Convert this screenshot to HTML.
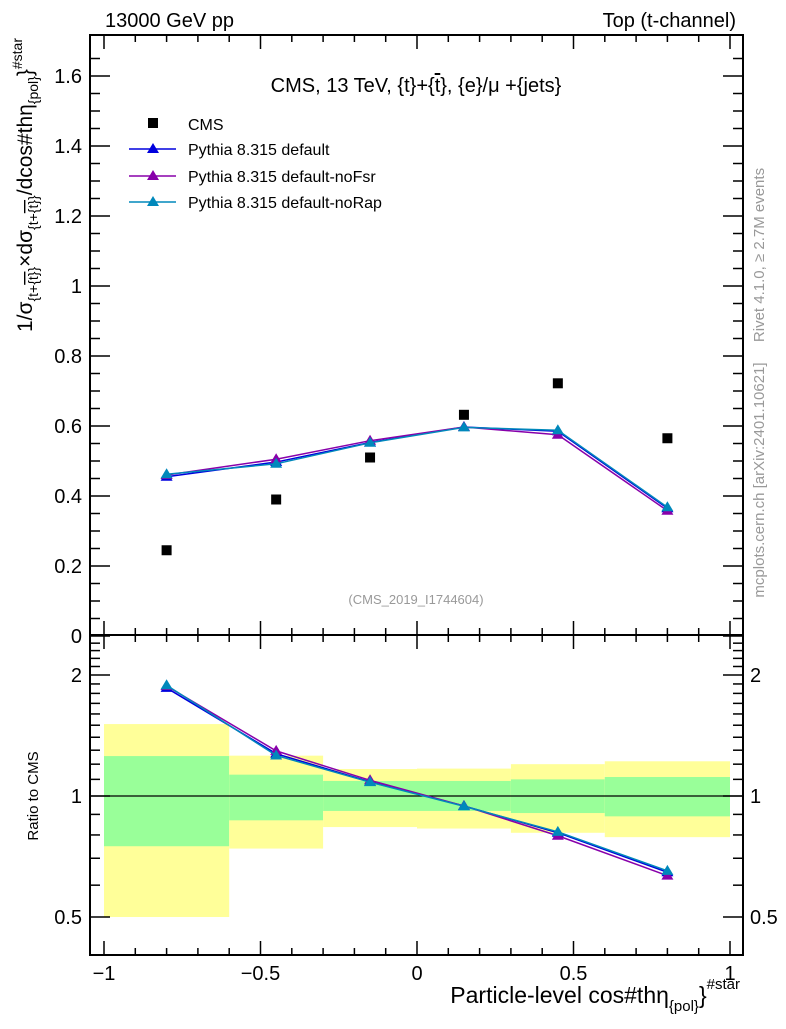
<!DOCTYPE html>
<html><head><meta charset="utf-8"><style>
body{margin:0;background:#fff}
svg{font-family:"Liberation Sans",sans-serif}
</style></head><body>
<svg id="c" width="786" height="1024" viewBox="0 0 786 1024" xmlns="http://www.w3.org/2000/svg">
<g id="bands"></g>
<g id="axes"></g>
<g id="series"></g>
<text x="105" y="27" font-size="20">13000 GeV pp</text>
<text x="736" y="27" font-size="20" text-anchor="end">Top (t-channel)</text>
<text x="416" y="92" font-size="20" text-anchor="middle">CMS, 13 TeV, {t}+{<tspan text-decoration="overline">t</tspan>}, {e}/μ +{jets}</text>
<text x="416" y="604" font-size="13" fill="#999" text-anchor="middle">(CMS_2019_I1744604)</text>
<text transform="translate(764,255) rotate(-90)" font-size="15" fill="#999" text-anchor="middle">Rivet 4.1.0, ≥ 2.7M events</text>
<text transform="translate(764,480) rotate(-90)" font-size="15" fill="#999" text-anchor="middle">mcplots.cern.ch [arXiv:2401.10621]</text>
<text transform="translate(32,38) rotate(-90)" font-size="21" text-anchor="end">1/σ<tspan font-size="14" dy="6">{t+<tspan text-decoration="overline">{t}</tspan>}</tspan><tspan dy="-6">×dσ</tspan><tspan font-size="14" dy="6">{t+<tspan text-decoration="overline">{t}</tspan>}</tspan><tspan dy="-6">/dcos#thη</tspan><tspan font-size="14" dy="6">{pol}</tspan><tspan dy="-6">}</tspan><tspan font-size="14" dy="-10">#star</tspan></text>
<text transform="translate(38,796) rotate(-90)" font-size="15" text-anchor="middle">Ratio to CMS</text>
<text x="740" y="1003" font-size="23" text-anchor="end">Particle-level cos#thη<tspan font-size="15" dy="8">{pol}</tspan><tspan dy="-8">}</tspan><tspan font-size="15" dy="-14">#star</tspan></text>
<g>
<rect x="148" y="118" width="10" height="10" fill="#000"/>
<text x="188" y="130" font-size="16">CMS</text>
<line x1="129" y1="149" x2="176" y2="149" stroke="#0000dd" stroke-width="1.5"/><polygon points="153,143 147,153 159,153" fill="#0000dd"/>
<text x="188" y="155" font-size="16">Pythia 8.315 default</text>
<line x1="129" y1="176" x2="176" y2="176" stroke="#8800aa" stroke-width="1.5"/><polygon points="153,170 147,180 159,180" fill="#8800aa"/>
<text x="188" y="182" font-size="16">Pythia 8.315 default-noFsr</text>
<line x1="129" y1="202" x2="176" y2="202" stroke="#0088bb" stroke-width="1.5"/><polygon points="153,196 147,206 159,206" fill="#0088bb"/>
<text x="188" y="208" font-size="16">Pythia 8.315 default-noRap</text>
</g>
</svg>
<script>
const binEdges=[-1,-0.6,-0.3,0,0.3,0.6,1];
const binCenters=[-0.8,-0.45,-0.15,0.15,0.45,0.8];
const cmsValues=[0.245,0.39,0.51,0.632,0.722,0.565];
const defaultValues=[0.455,0.497,0.553,0.597,0.585,0.365];
const noFsrValues=[0.46,0.505,0.558,0.597,0.575,0.358];
const noRapValues=[0.462,0.492,0.552,0.596,0.588,0.368];
const yellowHi=[1.51,1.26,1.167,1.17,1.20,1.22];
const yellowLo=[0.5,0.74,0.837,0.83,0.81,0.79];
const greenHi=[1.257,1.13,1.09,1.09,1.10,1.115];
const greenLo=[0.75,0.87,0.918,0.918,0.907,0.89];
const xTicks=[-1,-0.5,0,0.5,1];
const xTickLabels=["−1","−0.5","0","0.5","1"];
const yTicks=[0,0.2,0.4,0.6,0.8,1,1.2,1.4,1.6];
const yTickLabels=["0","0.2","0.4","0.6","0.8","1","1.2","1.4","1.6"];
const rTicks=[0.5,1,2];
const rTickLabels=["0.5","1","2"];

const NS="http://www.w3.org/2000/svg";
const L=90,R=743,T=35,MB=635,RB=955;
const X=v=>417+v*313;
const Y=v=>636-v*350;
const RY=v=>796-Math.log2(v)*121;
function mk(tag,attrs,parent){const e=document.createElementNS(NS,tag);for(const k in attrs)e.setAttribute(k,attrs[k]);parent.appendChild(e);return e;}
const bands=document.getElementById('bands'),axes=document.getElementById('axes'),series=document.getElementById('series');

for(let i=0;i<binCenters.length;i++){
 const x1=X(binEdges[i]),x2=X(binEdges[i+1]);
 const y=mk('rect',{x:x1,y:RY(yellowHi[i]),width:x2-x1,height:RY(yellowLo[i])-RY(yellowHi[i]),fill:'#ffff99'},bands);
 
 
 const g=mk('rect',{x:x1,y:RY(greenHi[i]),width:x2-x1,height:RY(greenLo[i])-RY(greenHi[i]),fill:'#99ff99'},bands);
 
 
}
mk('line',{x1:L,x2:R,y1:RY(1),y2:RY(1),stroke:'#000','stroke-width':1.2},bands);

mk('rect',{x:L,y:T,width:R-L,height:MB-T,fill:'none',stroke:'#000','stroke-width':2},axes);
mk('rect',{x:L,y:MB,width:R-L,height:RB-MB,fill:'none',stroke:'#000','stroke-width':2},axes);
for(let v=-1;v<=1.0001;v+=0.1){
 const x=X(v),major=Math.abs(v*2-Math.round(v*2))<1e-6;const h=major?14:7;
 mk('line',{x1:x,x2:x,y1:T,y2:T+h,stroke:'#000','stroke-width':1.5},axes);
 mk('line',{x1:x,x2:x,y1:MB,y2:MB-h,stroke:'#000','stroke-width':1.5},axes);
 mk('line',{x1:x,x2:x,y1:MB,y2:MB+h,stroke:'#000','stroke-width':1.5},axes);
 mk('line',{x1:x,x2:x,y1:RB,y2:RB-h,stroke:'#000','stroke-width':1.5},axes);
}
xTicks.forEach((v,i)=>{const t=mk('text',{x:X(v),y:980,'font-size':20,'text-anchor':'middle'},axes);t.textContent=xTickLabels[i];
 
 });
for(let v=0;v<=1.7;v+=0.05){const y=Y(v);const major=Math.abs(v*5-Math.round(v*5))<1e-6;const h=major?20:10;
 mk('line',{x1:L,x2:L+h,y1:y,y2:y,stroke:'#000','stroke-width':1.5},axes);
 mk('line',{x1:R,x2:R-h,y1:y,y2:y,stroke:'#000','stroke-width':1.5},axes);}
yTicks.forEach((v,i)=>{const t=mk('text',{x:82,y:Y(v)+7,'font-size':20,'text-anchor':'end'},axes);t.textContent=yTickLabels[i];
 
 });
const rMinor=[0.4,0.5,0.6,0.7,0.8,0.9,1,1.1,1.2,1.3,1.4,1.5,1.6,1.7,1.8,1.9,2,2.1,2.2,2.3,2.4];
rMinor.forEach(v=>{const y=RY(v);if(y<MB||y>RB)return;const h=rTicks.includes(v)?20:10;
 mk('line',{x1:L,x2:L+h,y1:y,y2:y,stroke:'#000','stroke-width':1.5},axes);
 mk('line',{x1:R,x2:R-h,y1:y,y2:y,stroke:'#000','stroke-width':1.5},axes);});
rTicks.forEach((v,i)=>{const t=mk('text',{x:82,y:RY(v)+7,'font-size':20,'text-anchor':'end'},axes);t.textContent=rTickLabels[i];
 
 
 const t2=mk('text',{x:750,y:RY(v)+7,'font-size':20},axes);t2.textContent=rTickLabels[i];
 
 });

function drawMC(vals,color,name){
 const pts=binCenters.map((c,i)=>X(c)+','+Y(vals[i])).join(' ');
 const pl=mk('polyline',{points:pts,fill:'none',stroke:color,'stroke-width':1.5},series);
 
 
 const rp=binCenters.map((c,i)=>X(c)+','+RY(vals[i]/cmsValues[i])).join(' ');
 const rl=mk('polyline',{points:rp,fill:'none',stroke:color,'stroke-width':1.5},series);
 
 
 binCenters.forEach((c,i)=>{
  [[Y(vals[i]),'-marker'],[RY(vals[i]/cmsValues[i]),'-ratio-marker']].forEach(([y,s])=>{
   const x=X(c);const p=mk('polygon',{points:`${x},${y-6} ${x-6},${y+4} ${x+6},${y+4}`,fill:color},series);
   
   
  });
 });
}
drawMC(defaultValues,'#0000dd','default');
drawMC(noFsrValues,'#8800aa','nofsr');
drawMC(noRapValues,'#0088bb','norap');
binCenters.forEach((c,i)=>{const r=mk('rect',{x:X(c)-5,y:Y(cmsValues[i])-5,width:10,height:10,fill:'#000'},series);
 
 });
</script>
</body></html>
